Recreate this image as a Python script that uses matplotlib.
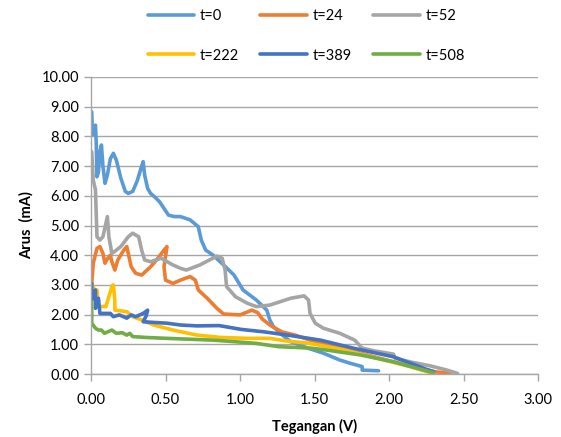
import matplotlib
matplotlib.use("Agg")
import matplotlib.pyplot as plt

plt.rcParams['font.family'] = ['Lato', 'DejaVu Sans']

labels = ["t=0", "t=24", "t=52", "t=222", "t=389", "t=508"]
colors = ["#5B9BD5", "#ED7D31", "#A5A5A5", "#FFC000", "#4472C4", "#70AD47"]

v_t0 = [0.005, 0.01, 0.02, 0.03, 0.035, 0.04, 0.05, 0.06, 0.07, 0.08, 0.094, 0.11, 0.13, 0.15,
        0.17, 0.20, 0.23, 0.25, 0.28, 0.31, 0.34, 0.35, 0.36, 0.38, 0.40, 0.43, 0.46, 0.52,
        0.56, 0.60, 0.665, 0.72, 0.74, 0.77, 0.82, 0.89, 0.96, 1.02, 1.11, 1.18, 1.20, 1.225,
        1.27, 1.34, 1.45, 1.56, 1.67, 1.74, 1.82, 1.82, 1.93]
i_t0 = [8.83, 8.05, 8.30, 8.38, 7.80, 6.64, 6.80, 7.50, 7.71, 7.00, 6.42, 6.70, 7.25, 7.43,
        7.20, 6.60, 6.15, 6.08, 6.15, 6.50, 7.00, 7.15, 6.70, 6.25, 6.08, 5.95, 5.80, 5.35,
        5.30, 5.30, 5.19, 4.96, 4.51, 4.17, 4.00, 3.67, 3.33, 2.83, 2.49, 2.15, 1.82, 1.59,
        1.37, 1.09, 0.88, 0.70, 0.47, 0.36, 0.25, 0.13, 0.11]

v_t24 = [0.005, 0.015, 0.04, 0.06, 0.08, 0.094, 0.105, 0.13, 0.14, 0.16, 0.18, 0.22, 0.24,
         0.27, 0.30, 0.34, 0.40, 0.44, 0.49, 0.51, 0.49, 0.50, 0.55, 0.60, 0.665, 0.70, 0.72,
         0.78, 0.845, 0.89, 1.00, 1.08, 1.12, 1.15, 1.20, 1.28, 1.37, 1.47, 1.58, 1.81, 2.03,
         2.21, 2.30, 2.41]
i_t24 = [3.05, 3.73, 4.23, 4.29, 4.06, 3.73, 3.84, 4.00, 3.78, 3.50, 3.84, 4.17, 4.29,
         3.61, 3.39, 3.33, 3.61, 3.84, 4.17, 4.29, 3.61, 3.16, 3.05, 3.16, 3.28, 3.16, 2.83,
         2.55, 2.21, 2.02, 1.99, 2.15, 2.06, 1.85, 1.65, 1.42, 1.31, 1.14, 0.98, 0.70, 0.41,
         0.19, 0.08, 0.02]

v_t52 = [0.005, 0.015, 0.03, 0.04, 0.06, 0.08, 0.11, 0.12, 0.14, 0.17, 0.20, 0.25, 0.28, 0.32,
         0.34, 0.36, 0.40, 0.47, 0.55, 0.60, 0.64, 0.73, 0.845, 0.88, 0.90, 0.91, 0.97, 1.05,
         1.11, 1.20, 1.34, 1.43, 1.46, 1.47, 1.505, 1.56, 1.67, 1.77, 1.82, 1.90, 2.03, 2.04,
         2.14, 2.28, 2.39, 2.46]
i_t52 = [7.48, 6.53, 6.20, 4.62, 4.51, 4.62, 5.30, 4.62, 4.06, 4.17, 4.29, 4.62, 4.74, 4.62,
         4.17, 3.84, 3.78, 3.90, 3.67, 3.56, 3.50, 3.67, 3.97, 3.90, 3.50, 2.94, 2.60, 2.38,
         2.27, 2.32, 2.55, 2.63, 2.49, 2.04, 1.71, 1.54, 1.37, 1.14, 0.87, 0.78, 0.67, 0.53,
         0.41, 0.27, 0.13, 0.02]

v_t222 = [0.005, 0.03, 0.04, 0.05, 0.10, 0.14, 0.15, 0.16, 0.16, 0.24, 0.28, 0.34, 0.42, 0.55,
          0.71, 0.87, 1.05, 1.20, 1.30, 1.47, 1.70, 1.92, 2.14, 2.28]
i_t222 = [3.05, 2.77, 2.83, 2.27, 2.27, 2.94, 3.00, 2.49, 2.15, 2.10, 1.93, 1.82, 1.65, 1.48,
          1.31, 1.23, 1.20, 1.20, 1.12, 1.03, 0.81, 0.53, 0.25, 0.04]

v_t389 = [0.005, 0.005, 0.03, 0.03, 0.05, 0.06, 0.09, 0.13, 0.15, 0.19, 0.24, 0.27, 0.30, 0.35,
          0.38, 0.37, 0.35, 0.41, 0.51, 0.60, 0.71, 0.86, 1.01, 1.16, 1.32, 1.54, 1.76,
          2.03, 2.25, 2.30]
i_t389 = [3.05, 2.49, 2.83, 2.21, 2.55, 2.04, 2.04, 2.04, 1.93, 1.99, 1.88, 1.99, 1.93, 2.04,
          2.15, 1.95, 1.76, 1.74, 1.71, 1.65, 1.62, 1.63, 1.50, 1.42, 1.31, 1.14, 0.87,
          0.58, 0.16, 0.08]

v_t508 = [0.005, 0.005, 0.03, 0.05, 0.07, 0.09, 0.14, 0.17, 0.21, 0.24, 0.26, 0.28, 0.37, 0.51,
          0.67, 0.82, 0.96, 1.11, 1.26, 1.48, 1.59, 1.81, 2.03, 2.30]
i_t508 = [2.43, 1.71, 1.54, 1.48, 1.48, 1.37, 1.48, 1.37, 1.39, 1.31, 1.37, 1.26, 1.23, 1.20,
          1.17, 1.14, 1.09, 1.03, 0.92, 0.87, 0.80, 0.64, 0.41, 0.04]

series_v = [v_t0, v_t24, v_t52, v_t222, v_t389, v_t508]
series_i = [i_t0, i_t24, i_t52, i_t222, i_t389, i_t508]

fig = plt.figure(figsize=(5.61, 4.37), dpi=100)
ax = fig.add_axes([91/561, 1 - 374/437, (538-91)/561, (374-77)/437])

handles = []
for v, i, c, lab in zip(series_v, series_i, colors, labels):
    h, = ax.plot(v, i, color=c, lw=2.6, label=lab, solid_joinstyle='round', solid_capstyle='round')
    handles.append(h)

ax.set_xlim(0, 3)
ax.set_ylim(0, 10)
xt = [0, 0.5, 1, 1.5, 2, 2.5, 3]
ax.set_xticks(xt)
ax.set_xticklabels([f"{t:.2f}" for t in xt])
ax.set_yticks(range(0, 11))
ax.set_yticklabels([f"{t:.2f}" for t in range(0, 11)])
ax.yaxis.grid(True, color="#A6A6A6", lw=1.0)
ax.set_axisbelow(True)
for s in ["top", "right"]:
    ax.spines[s].set_visible(False)
for s in ["left", "bottom"]:
    ax.spines[s].set_color("#A6A6A6")
    ax.spines[s].set_linewidth(1.0)
ax.tick_params(axis='both', colors="#A6A6A6", labelcolor="black", labelsize=10.5,
               length=5, width=1.0, direction='out')
ax.tick_params(axis='x', pad=9)
ax.set_xlabel("Tegangan (V)", fontsize=10.5, fontweight='bold', labelpad=8)
ax.set_ylabel("Arus  (mA)", fontsize=10.5, fontweight='bold', labelpad=6)

order = [0, 3, 1, 4, 2, 5]
fig.legend([handles[k] for k in order], [labels[k] for k in order],
           loc='center', bbox_to_anchor=(0.546, 0.918), ncol=3, frameon=False,
           fontsize=10.5, handlelength=3.2, columnspacing=1.45, labelspacing=1.75,
           handletextpad=0.4)

fig.savefig("out.png", dpi=100)
